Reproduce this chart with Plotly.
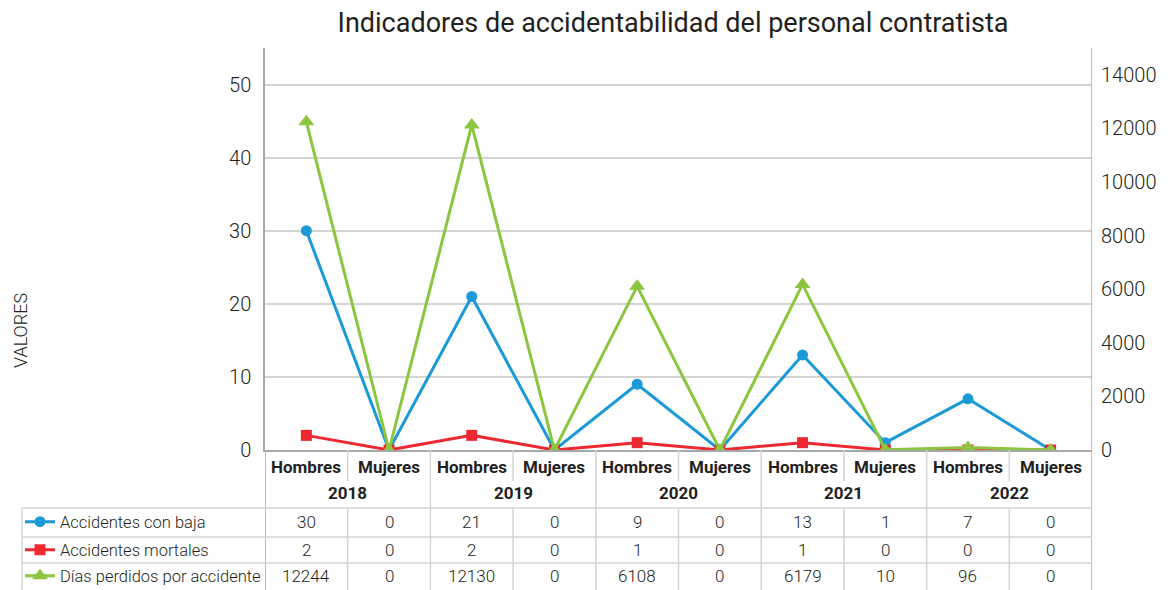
import plotly.graph_objects as go

years = ["2018", "2019", "2020", "2021", "2022"]
sexes = ["Hombres", "Mujeres"]
categories = [s for y in years for s in sexes]

acc_baja = [30, 0, 21, 0, 9, 0, 13, 1, 7, 0]
acc_mortales = [2, 0, 2, 0, 1, 0, 1, 0, 0, 0]
dias_perdidos = [12244, 0, 12130, 0, 6108, 0, 6179, 10, 96, 0]

series_names = ["Accidentes con baja", "Accidentes mortales", "Días perdidos por accidente"]

BLUE = "#1b9ad7"
RED = "#ec2830"
GREEN = "#8cc540"
GRID = "#d4d4d4"
AXIS = "#a8a8a8"
TXT = "#231f20"
FONT = "Roboto, sans-serif"

# page body has an 8px margin, so the figure is a bit smaller than the window
OFF = 8
W, H = 1169 - OFF, 590 - OFF
L, R, T, B = 265 - OFF, 77, 48 - OFF, 140
PH = H - T - B
PW = W - L - R


def py(p):
    # window pixel row -> paper y
    return (450 - p) / PH


def px(p):
    # window pixel column -> paper x
    return (p - 265) / PW


xs = list(range(len(categories)))

fig = go.Figure()
fig.add_trace(go.Scatter(
    x=xs, y=acc_baja, name=series_names[0], mode="lines+markers",
    line=dict(color=BLUE, width=3), marker=dict(symbol="circle", size=11, color=BLUE),
    legend="legend", showlegend=True,
))
fig.add_trace(go.Scatter(
    x=xs, y=acc_mortales, name=series_names[1], mode="lines+markers",
    line=dict(color=RED, width=3), marker=dict(symbol="square", size=11, color=RED),
    legend="legend2", showlegend=True,
))
fig.add_trace(go.Scatter(
    x=xs, y=dias_perdidos, name=series_names[2], mode="lines+markers",
    line=dict(color=GREEN, width=3), marker=dict(symbol="triangle-up", size=14, color=GREEN),
    yaxis="y2", legend="legend3", showlegend=True,
))

shapes = []
# category separators under the plot
for i in range(1, len(categories)):
    xb = i - 0.5
    if i % 2 == 0:
        shapes.append(dict(type="line", xref="x", yref="paper", x0=xb, x1=xb,
                           y0=py(450), y1=py(590), line=dict(color=GRID, width=1.5)))
    else:
        shapes.append(dict(type="line", xref="x", yref="paper", x0=xb, x1=xb,
                           y0=py(450), y1=py(481), line=dict(color=GRID, width=1.5)))
        shapes.append(dict(type="line", xref="x", yref="paper", x0=xb, x1=xb,
                           y0=py(508), y1=py(590), line=dict(color=GRID, width=1.5)))
for xb in [-0.5, 9.5]:
    shapes.append(dict(type="line", xref="x", yref="paper", x0=xb, x1=xb,
                       y0=py(450), y1=py(590), line=dict(color=AXIS, width=1.5)))
shapes.append(dict(type="line", xref="x", yref="paper", x0=9.5, x1=9.5,
                   y0=0, y1=1, line=dict(color=AXIS, width=1.5)))
for row in [508, 537, 563]:
    shapes.append(dict(type="line", xref="paper", yref="paper", x0=px(22), x1=1,
                       y0=py(row), y1=py(row), line=dict(color=GRID, width=1.5)))
shapes.append(dict(type="line", xref="paper", yref="paper", x0=px(22), x1=px(22),
                   y0=py(508), y1=py(590), line=dict(color=GRID, width=1.5)))

head_font = dict(family=FONT, size=17, color=TXT)
cell_font = dict(family=FONT, size=17, color=TXT, weight=300)

annotations = []
for i, c in enumerate(categories):
    annotations.append(dict(x=i, y=py(467), xref="x", yref="paper", text="<b>%s</b>" % c,
                            showarrow=False, font=head_font, yanchor="middle"))
for k, yr in enumerate(years):
    annotations.append(dict(x=2 * k + 0.5, y=py(493), xref="x", yref="paper", text="<b>%s</b>" % yr,
                            showarrow=False, font=head_font, yanchor="middle"))
for vals, yc in [(acc_baja, 522), (acc_mortales, 550), (dias_perdidos, 576)]:
    for i, v in enumerate(vals):
        annotations.append(dict(x=i, y=py(yc), xref="x", yref="paper", text=str(v),
                                showarrow=False, font=cell_font, yanchor="middle"))
annotations.append(dict(x=px(20), y=py(331), xref="paper", yref="paper", text="VALORES",
                        textangle=-90, showarrow=False, xanchor="center", yanchor="middle",
                        font=dict(family=FONT, size=18, color=TXT, weight=300)))

leg_common = dict(bgcolor="rgba(0,0,0,0)", xanchor="left", yanchor="middle",
                  font=dict(family=FONT, size=16.5, color=TXT, weight=300),
                  itemwidth=30, borderwidth=0)

tick_font = dict(family=FONT, size=20, color=TXT, weight=300)

fig.update_layout(
    width=W, height=H,
    margin=dict(l=L, r=R, t=T, b=B, autoexpand=False),
    showlegend=True,
    paper_bgcolor="white", plot_bgcolor="white",
    title=dict(text="Indicadores de accidentabilidad del personal contratista",
               x=(673 - OFF) / W, xanchor="center", y=1 - (23 - OFF) / H, yanchor="middle",
               font=dict(family=FONT, size=27, color=TXT)),
    xaxis=dict(range=[-0.5, 9.5], showticklabels=False, showgrid=False, zeroline=False,
               showline=True, linecolor=AXIS, linewidth=1.5, ticks=""),
    yaxis=dict(range=[0, 55], tickvals=[0, 10, 20, 30, 40, 50], showgrid=True, gridcolor=GRID,
               gridwidth=1.5, zeroline=False, showline=True, linecolor=AXIS, linewidth=1.5,
               tickfont=tick_font, ticklabelstandoff=8),
    yaxis2=dict(range=[0, 15000], tickvals=list(range(0, 14001, 2000)), tickformat="d",
                overlaying="y", side="right", showgrid=False, zeroline=False, showline=False,
                tickfont=tick_font, ticklabelstandoff=8),
    legend=dict(x=px(20), y=py(522), **leg_common),
    legend2=dict(x=px(20), y=py(550), **leg_common),
    legend3=dict(x=px(20), y=py(576), **leg_common),
    shapes=shapes,
    annotations=annotations,
)

fig.write_html("out.html")
